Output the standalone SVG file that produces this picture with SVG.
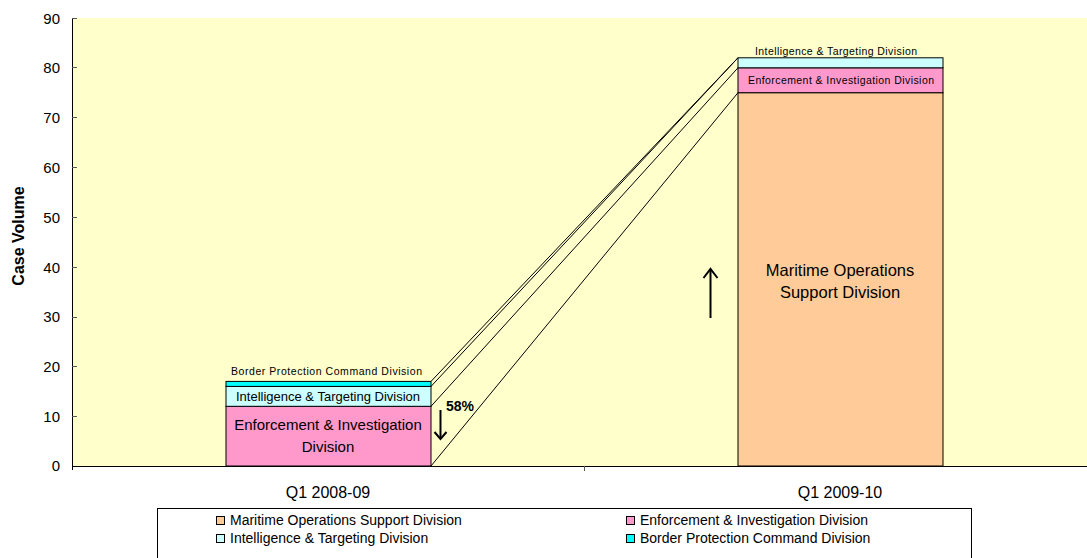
<svg xmlns="http://www.w3.org/2000/svg" width="1087" height="558" viewBox="0 0 1087 558">
<style>
text{font-family:"Liberation Sans",Arial,sans-serif;fill:#000}
.ax{font-size:15px}
.bar{stroke:#000;stroke-width:1}
.mos{fill:#FFCC99}
.eid{fill:#FF99CC}
.itd{fill:#CCFFFF}
.bpc{fill:#00FFFF}
.ser{stroke:#000;stroke-width:1;fill:none}
.arr{stroke:#000;stroke-width:2;fill:none}
</style>
<rect x="0" y="0" width="1087" height="558" fill="#fff"/>
<rect x="72" y="18" width="1015" height="448" fill="#FFFFCC"/>
<g id="axes">
<line x1="72.5" y1="18" x2="72.5" y2="470" stroke="#000"/>
<line x1="72" y1="466.5" x2="1087" y2="466.5" stroke="#000"/>
<g stroke="#555">
<line x1="72" y1="18.5" x2="77" y2="18.5"/>
<line x1="72" y1="67.5" x2="77" y2="67.5"/>
<line x1="72" y1="117.5" x2="77" y2="117.5"/>
<line x1="72" y1="167.5" x2="77" y2="167.5"/>
<line x1="72" y1="217.5" x2="77" y2="217.5"/>
<line x1="72" y1="267.5" x2="77" y2="267.5"/>
<line x1="72" y1="317.5" x2="77" y2="317.5"/>
<line x1="72" y1="366.5" x2="77" y2="366.5"/>
<line x1="72" y1="416.5" x2="77" y2="416.5"/>
<line x1="584.5" y1="466" x2="584.5" y2="471"/>
</g>
<g class="ax" text-anchor="end">
<text x="60" y="24">90</text>
<text x="60" y="73">80</text>
<text x="60" y="123">70</text>
<text x="60" y="173">60</text>
<text x="60" y="223">50</text>
<text x="60" y="273">40</text>
<text x="60" y="322">30</text>
<text x="60" y="372">20</text>
<text x="60" y="422">10</text>
<text x="60" y="471">0</text>
</g>
<text x="0" y="0" transform="translate(24,236) rotate(-90)" text-anchor="middle" font-size="16" font-weight="bold">Case Volume</text>
<text x="328" y="498" text-anchor="middle" font-size="16">Q1 2008-09</text>
<text x="840" y="498" text-anchor="middle" font-size="16">Q1 2009-10</text>
</g>
<g id="connectors">
<line class="ser" x1="431" y1="466" x2="738" y2="92.7"/>
<line class="ser" x1="431" y1="406.3" x2="738" y2="67.8"/>
<line class="ser" x1="431" y1="386.4" x2="738" y2="57.8"/>
<line class="ser" x1="431" y1="381.4" x2="738" y2="57.8"/>
</g>
<g id="bar-q1-2008-09">
<rect class="bar eid" x="226" y="406.3" width="205" height="59.7"/>
<rect class="bar itd" x="226" y="386.4" width="205" height="19.9"/>
<rect class="bar bpc" x="226" y="381.4" width="205" height="5"/>
<text x="231" y="375" font-size="10.5" textLength="191" lengthAdjust="spacing">Border Protection Command Division</text>
<text x="328" y="400.5" text-anchor="middle" font-size="13">Intelligence &amp; Targeting Division</text>
<text x="328" y="430" text-anchor="middle" font-size="15">Enforcement &amp; Investigation</text>
<text x="328" y="452" text-anchor="middle" font-size="15">Division</text>
</g>
<g id="bar-q1-2009-10">
<rect class="bar mos" x="738" y="92.7" width="205" height="373.3"/>
<rect class="bar eid" x="738" y="67.8" width="205" height="24.9"/>
<rect class="bar itd" x="738" y="57.8" width="205" height="10"/>
<text x="755" y="54.5" font-size="10.5" textLength="162" lengthAdjust="spacing">Intelligence &amp; Targeting Division</text>
<text x="748" y="83.5" font-size="10.5" textLength="186" lengthAdjust="spacing">Enforcement &amp; Investigation Division</text>
<text x="840" y="276" text-anchor="middle" font-size="16.5">Maritime Operations</text>
<text x="840" y="298" text-anchor="middle" font-size="16.5">Support Division</text>
</g>
<g id="change-down">
<line class="arr" x1="440.5" y1="410" x2="440.5" y2="439"/>
<polyline class="arr" points="434.5,432 440.5,439 446.5,432"/>
<text x="446" y="411" font-size="14" font-weight="bold">58%</text>
</g>
<g id="change-up">
<line class="arr" x1="710.5" y1="269" x2="710.5" y2="318"/>
<polyline class="arr" points="703.5,278 710.5,269 717.5,278"/>
</g>
<g id="legend">
<rect x="157.5" y="508.5" width="814" height="52" fill="#fff" stroke="#000"/>
<rect x="216.5" y="516.5" width="8" height="8" fill="#FFCC99" stroke="#000"/>
<text x="230" y="525" font-size="14">Maritime Operations Support Division</text>
<rect x="216.5" y="534.5" width="8" height="8" fill="#CCFFFF" stroke="#000"/>
<text x="230" y="543" font-size="14">Intelligence &amp; Targeting Division</text>
<rect x="626.5" y="516.5" width="8" height="8" fill="#FF99CC" stroke="#000"/>
<text x="640" y="525" font-size="14">Enforcement &amp; Investigation Division</text>
<rect x="626.5" y="534.5" width="8" height="8" fill="#00FFFF" stroke="#000"/>
<text x="640" y="543" font-size="14">Border Protection Command Division</text>
</g>
</svg>
